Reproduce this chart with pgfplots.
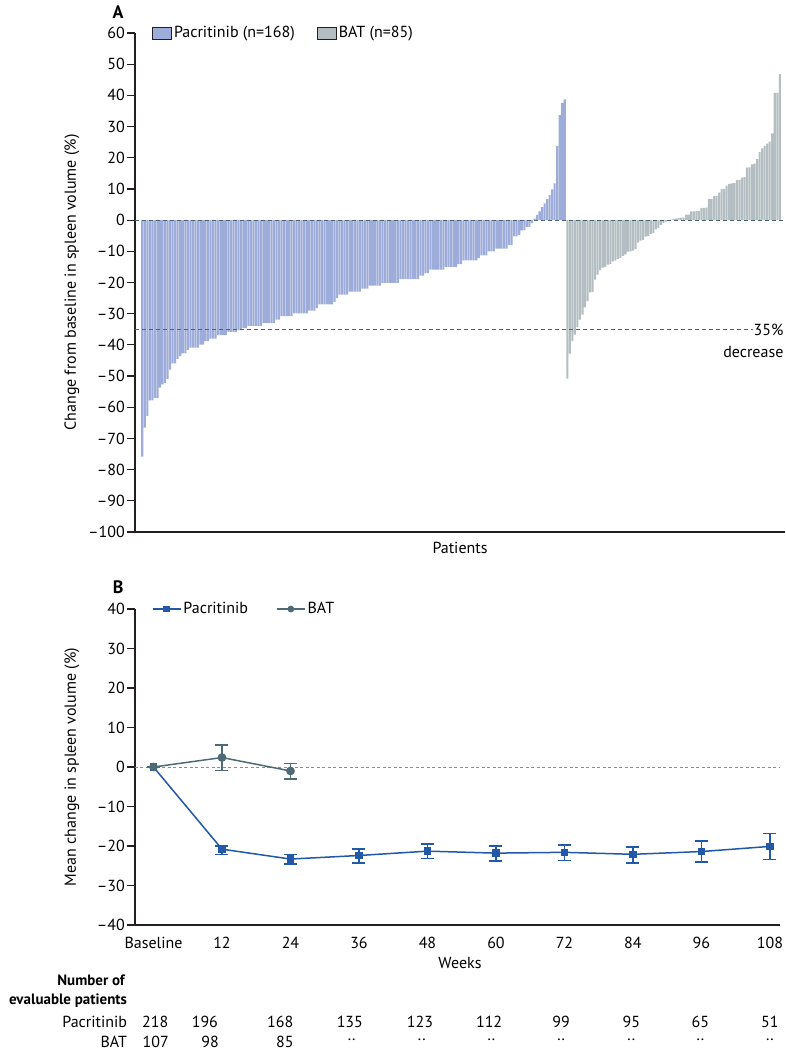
\documentclass[border=0pt]{standalone}
\usepackage{pgfplots}
\pgfplotsset{compat=1.18}
\usepackage{fontspec}
\setmainfont{PT Sans}
\definecolor{pacbar}{HTML}{9DACD9}
\definecolor{batbar}{HTML}{B4BEC2}
\definecolor{refline}{HTML}{4A6670}
\definecolor{pacline}{HTML}{2158A8}
\definecolor{batline}{HTML}{4E6B75}
\definecolor{axcol}{HTML}{231F20}
\begin{document}
\fontsize{16}{19}\selectfont
\begin{tikzpicture}
\path[use as bounding box] (0pt,0pt) rectangle (785pt,-1050pt);
% ---------------- Panel A ----------------
\begin{axis}[
  at={(135pt,-532pt)}, anchor=south west,
  scale only axis, width=650pt, height=499pt,
  xmin=-1.88, xmax=255.05, ymin=-100, ymax=60,
  axis x line*=bottom, axis y line*=left,
  ytick={-100,-90,...,60},
  yticklabels={–100,–90,–80,–70,–60,–50,–40,–30,–20,–10,0,10,20,30,40,50,60},
  xtick=\empty,
  tick align=outside, major tick length=8pt,
  axis line style={line width=1.3pt, color=axcol},
  every tick/.style={line width=1.2pt, color=axcol},
  yticklabel style={inner sep=2pt},
  clip=false,
  legend columns=2,
  legend style={at={(rel axis cs:0.026,1)}, anchor=west, draw=none, fill=none,
    inner sep=0pt, /tikz/every even column/.append style={column sep=20pt}},
  legend cell align=left,
  legend image code/.code={\draw[#1, draw=axcol, line width=0.9pt] (0pt,-6pt) rectangle (19pt,6pt);},
]
\addplot[ybar, bar width=0.82, bar shift=0pt, fill=pacbar, draw=none] coordinates {
(1,-75.8) (2,-66.5) (3,-62.8) (4,-57.8) (5,-57.8) (6,-57.0) (7,-57.0) (8,-53.7) (9,-52.7) (10,-52.2)
(11,-50.9) (12,-47.9) (13,-45.9) (14,-45.9) (15,-44.5) (16,-43.6) (17,-42.7) (18,-42.7) (19,-41.7) (20,-40.9)
(21,-40.9) (22,-40.9) (23,-40.9) (24,-39.9) (25,-39.9) (26,-38.8) (27,-38.8) (28,-38.0) (29,-38.0) (30,-38.0)
(31,-36.9) (32,-36.9) (33,-36.9) (34,-36.9) (35,-35.8) (36,-35.8) (37,-35.8) (38,-35.8) (39,-35.3) (40,-35.3)
(41,-34.6) (42,-34.6) (43,-33.9) (44,-33.9) (45,-33.9) (46,-33.9) (47,-33.9) (48,-33.9) (49,-33.0) (50,-33.0)
(51,-33.0) (52,-33.0) (53,-33.0) (54,-31.9) (55,-31.9) (56,-30.8) (57,-30.8) (58,-30.8) (59,-30.8) (60,-30.8)
(61,-29.9) (62,-29.9) (63,-29.9) (64,-29.9) (65,-29.9) (66,-29.9) (67,-29.0) (68,-29.0) (69,-29.0) (70,-28.2)
(71,-27.0) (72,-27.0) (73,-27.0) (74,-27.0) (75,-27.0) (76,-27.0) (77,-26.2) (78,-25.0) (79,-23.9) (80,-23.9)
(81,-23.9) (82,-23.9) (83,-22.9) (84,-22.9) (85,-22.9) (86,-22.9) (87,-22.9) (88,-22.0) (89,-22.0) (90,-22.0)
(91,-21.0) (92,-21.0) (93,-21.0) (94,-21.0) (95,-21.0) (96,-20.1) (97,-20.1) (98,-20.1) (99,-20.1) (100,-20.1)
(101,-20.1) (102,-20.1) (103,-18.9) (104,-18.9) (105,-18.9) (106,-18.9) (107,-18.9) (108,-18.9) (109,-18.9) (110,-18.9)
(111,-17.8) (112,-17.8) (113,-17.0) (114,-17.0) (115,-15.9) (116,-15.9) (117,-15.9) (118,-15.9) (119,-15.9) (120,-15.9)
(121,-15.0) (122,-15.0) (123,-15.0) (124,-15.0) (125,-15.0) (126,-14.1) (127,-14.1) (128,-12.9) (129,-12.9) (130,-12.9)
(131,-12.9) (132,-12.9) (133,-12.9) (134,-12.2) (135,-11.3) (136,-11.3) (137,-11.3) (138,-10.0) (139,-10.0) (140,-10.0)
(141,-9.1) (142,-9.1) (143,-9.1) (144,-9.1) (145,-9.1) (146,-8.0) (147,-8.0) (148,-5.2) (149,-5.2) (150,-4.7)
(151,-3.3) (152,-3.3) (153,-2.2) (154,-2.2) (155,-1.0) (156,0.5) (157,1.7) (158,2.8) (159,4.2) (160,5.4)
(161,6.7) (162,8.1) (163,9.9) (164,11.8) (165,23.8) (166,33.7) (167,37.6) (168,38.7)
};
\addlegendentry{Pacritinib (n=168)}
\addplot[ybar, bar width=0.82, bar shift=0pt, fill=batbar, draw=none] coordinates {
(169,-50.8) (170,-42.8) (171,-38.8) (172,-36.7) (173,-34.3) (174,-31.9) (175,-30.3) (176,-28.0) (177,-26.0) (178,-23.2)
(179,-23.0) (180,-19.1) (181,-17.5) (182,-16.0) (183,-15.2) (184,-15.0) (185,-14.3) (186,-14.0) (187,-13.2) (188,-13.0)
(189,-12.4) (190,-12.2) (191,-11.5) (192,-11.0) (193,-10.1) (194,-10.0) (195,-9.8) (196,-9.2) (197,-7.2) (198,-6.6)
(199,-6.4) (200,-5.3) (201,-5.1) (202,-4.4) (203,-4.2) (204,-3.0) (205,-2.6) (206,-1.5) (207,-1.0) (208,-0.5)
(209,-0.3) (210,0.2) (211,0.3) (212,0.6) (213,0.7) (214,0.8) (215,0.8) (216,1.8) (217,1.8) (218,2.8)
(219,2.8) (220,2.9) (221,2.9) (222,3.9) (223,3.9) (224,4.0) (225,6.8) (226,6.8) (227,7.8) (228,7.8)
(229,8.8) (230,10.0) (231,10.0) (232,11.1) (233,11.6) (234,11.8) (235,11.9) (236,12.9) (237,12.9) (238,13.6)
(239,13.8) (240,16.8) (241,16.9) (242,17.9) (243,18.1) (244,19.6) (245,21.8) (246,23.0) (247,23.8) (248,24.5)
(249,25.2) (250,27.8) (251,40.8) (252,40.8) (253,46.8)
};
\addlegendentry{BAT (n=85)}
\addplot[refline, line width=1.2pt, dash pattern=on 4pt off 3pt, forget plot] coordinates {(-1.88,0) (255.05,0)};
\addplot[refline, line width=1.2pt, dash pattern=on 4pt off 3pt, forget plot] coordinates {(-1.88,-35) (242.3,-35)};
\node[anchor=east, inner sep=0pt] at (axis cs:254.5,-35.2) {35\%};
\node[anchor=east, inner sep=0pt] at (axis cs:254.5,-42.4) {decrease};
\node[rotate=90] at (axis cs:-26.8,-20) {Change from baseline in spleen volume (\%)};
\node at (axis cs:126.6,-105.1) {Patients};
\node[font=\bfseries\fontsize{18}{21}\selectfont] at (axis cs:-8.6,66.7) {A};
\end{axis}
% ---------------- Panel B ----------------
\begin{axis}[
  at={(135pt,-925pt)}, anchor=south west,
  scale only axis, width=645pt, height=316pt,
  xmin=-3.24, xmax=109.76, ymin=-40, ymax=40,
  axis x line*=bottom, axis y line*=left,
  ytick={-40,-30,...,40},
  yticklabels={–40,–30,–20,–10,0,10,20,30,40},
  xtick={0,12,...,108},
  xticklabels={Baseline,12,24,36,48,60,72,84,96,108},
  tick align=outside, major tick length=8pt,
  x tick style={draw=none},
  axis line style={line width=1.3pt, color=axcol},
  every tick/.style={line width=1.2pt, color=axcol},
  yticklabel style={inner sep=2pt},
  xticklabel style={inner sep=2pt, yshift=-2pt},
  clip=false,
  legend columns=2,
  legend style={at={(rel axis cs:0.026,1)}, anchor=west, draw=none, fill=none,
    inner sep=0pt, /tikz/every even column/.append style={column sep=26pt}},
  legend cell align=left,
  legend image code/.code={\draw[#1] (0pt,0pt) -- (28pt,0pt); \draw[#1, mark size=2.6pt] plot coordinates {(14pt,0pt)};},
]
\addplot[color=black!45, line width=1pt, dash pattern=on 3pt off 2.5pt, forget plot] coordinates {(-3.24,0) (109.76,0)};
\addplot[pacline, line width=1.5pt, mark=square*, mark size=3pt,
  error bars/.cd, y dir=both, y explicit,
  error bar style={line width=1.5pt, pacline},
  error mark options={line width=1.5pt, pacline, mark size=6.5pt, rotate=90}]
  coordinates {
  (0,0) += (0,0) -= (0,0)
  (12,-20.8) += (0,0.8) -= (0,1.3)
  (24,-23.3) += (0,1.2) -= (0,1.3)
  (36,-22.4) += (0,1.7) -= (0,1.9)
  (48,-21.3) += (0,1.8) -= (0,1.8)
  (60,-21.8) += (0,1.8) -= (0,2.0)
  (72,-21.6) += (0,1.9) -= (0,2.1)
  (84,-22.1) += (0,1.8) -= (0,2.2)
  (96,-21.4) += (0,2.7) -= (0,2.6)
  (108,-20.1) += (0,3.3) -= (0,3.3)
};
\addlegendentry{Pacritinib}
\addplot[batline, line width=1.5pt, mark=*, mark size=3.6pt,
  error bars/.cd, y dir=both, y explicit,
  error bar style={line width=1.5pt, batline},
  error mark options={line width=1.5pt, batline, mark size=6.5pt, rotate=90}]
  coordinates {
  (0,0) += (0,0) -= (0,0)
  (12,2.4) += (0,3.2) -= (0,3.3)
  (24,-1.0) += (0,1.9) -= (0,2.0)
};
\addlegendentry{BAT}
\node[rotate=90] at (axis cs:-14.3,0) {Mean change in spleen volume (\%)};
\node at (axis cs:53.7,-49.6) {Weeks};
\node[font=\bfseries\fontsize{18}{21}\selectfont] at (axis cs:-6.2,45.6) {B};
% number of evaluable patients
\node[anchor=east, inner sep=0pt, font=\bfseries\fontsize{15}{18}\selectfont] at (axis cs:-5.0,-53.9) {Number of};
\node[anchor=east, inner sep=0pt, font=\bfseries\fontsize{15}{18}\selectfont] at (axis cs:-4.6,-59.2) {evaluable patients};
\node[anchor=east, inner sep=0pt] at (axis cs:-4.6,-64.6) {Pacritinib};
\node[anchor=east, inner sep=0pt] at (axis cs:-4.6,-69.6) {BAT};
\node at (axis cs:0.3,-64.6) {218};
\node at (axis cs:9.0,-64.6) {196};
\node at (axis cs:22.2,-64.6) {168};
\node at (axis cs:34.4,-64.6) {135};
\node at (axis cs:46.7,-64.6) {123};
\node at (axis cs:58.8,-64.6) {112};
\node at (axis cs:71.4,-64.6) {99};
\node at (axis cs:83.7,-64.6) {95};
\node at (axis cs:95.8,-64.6) {65};
\node at (axis cs:108,-64.6) {51};
\node at (axis cs:0.4,-69.6) {107};
\node at (axis cs:9.9,-69.6) {98};
\node at (axis cs:23.0,-69.6) {85};
\node at (axis cs:34.7,-69.6) {··};
\node at (axis cs:47.0,-69.6) {··};
\node at (axis cs:59.2,-69.6) {··};
\node at (axis cs:71.4,-69.6) {··};
\node at (axis cs:83.7,-69.6) {··};
\node at (axis cs:95.8,-69.6) {··};
\node at (axis cs:108,-69.6) {··};
\end{axis}
\end{tikzpicture}
\end{document}
